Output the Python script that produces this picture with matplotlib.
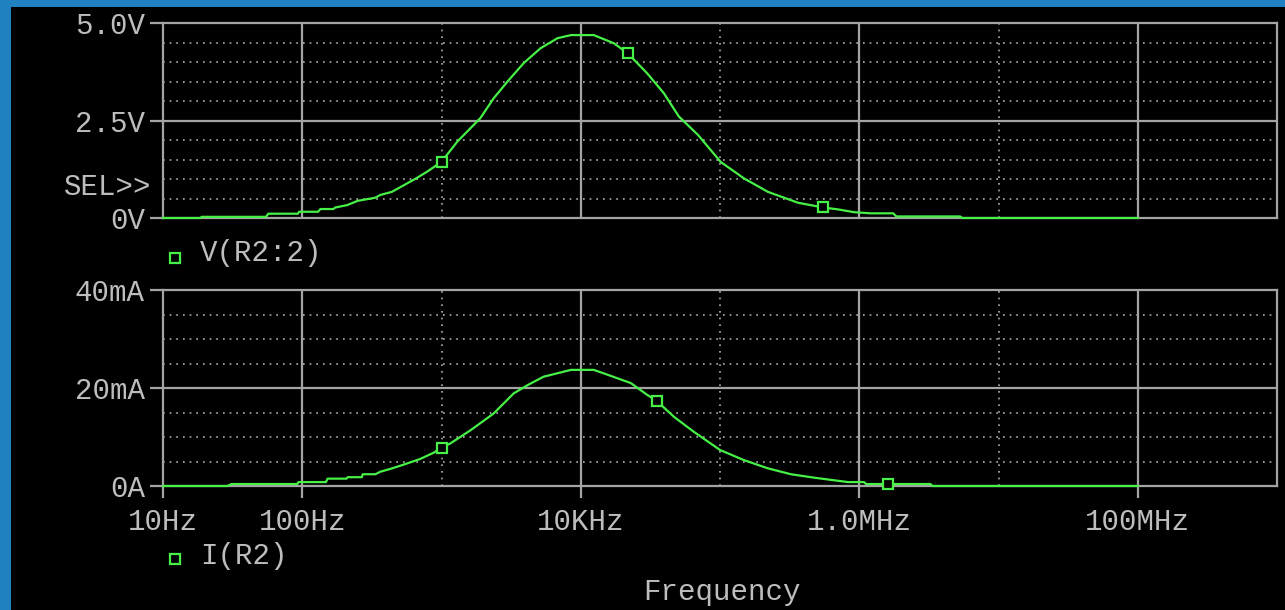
import matplotlib
matplotlib.use("Agg")
import matplotlib.pyplot as plt
from matplotlib.patches import Rectangle
from matplotlib.lines import Line2D

# ---------------- data ----------------
freq_v = [10, 18.5, 19, 55, 57, 93, 95, 130, 135, 167, 173, 210, 250, 335, 363,
          440, 530, 660, 790, 1000, 1300, 1900, 2370, 2980, 3890, 5130, 6800,
          8500, 12400, 17300, 21800, 30000, 39500, 50700, 69500, 101000, 148000,
          221000, 364000, 550000, 705000, 915000, 1.2e6, 1.75e6, 1.85e6, 5.3e6,
          5.5e6, 1e8]
volt = [0.0, 0.0, 0.03, 0.03, 0.11, 0.11, 0.16, 0.16, 0.23, 0.23, 0.27, 0.33,
        0.44, 0.52, 0.59, 0.67, 0.83, 1.02, 1.19, 1.44, 1.96, 2.56, 3.07, 3.50,
        3.97, 4.35, 4.61, 4.69, 4.69, 4.48, 4.22, 3.71, 3.20, 2.60, 2.13, 1.44,
        1.02, 0.67, 0.39, 0.27, 0.22, 0.15, 0.12, 0.12, 0.04, 0.04, 0.0, 0.0]

freq_i = [10, 29, 31, 92, 94, 148, 152, 208, 212, 268, 272, 335, 363, 430, 540,
          700, 880, 1000, 1160, 1620, 2370, 3300, 4160, 5400, 8500, 12400, 15600,
          22900, 30000, 35000, 46800, 64600, 100000, 148000, 221000, 323000,
          474000, 830000, 1.08e6, 1.12e6, 3.25e6, 3.35e6, 1e8]
curr_ma = [0.0, 0.0, 0.4, 0.4, 0.8, 0.8, 1.5, 1.5, 1.8, 1.8, 2.4, 2.4, 2.9, 3.5,
           4.4, 5.5, 6.8, 7.8, 8.7, 11.4, 14.8, 18.9, 20.6, 22.3, 23.7, 23.7,
           22.7, 21.0, 18.6, 17.4, 14.1, 11.1, 7.35, 5.3, 3.6, 2.4, 1.7, 0.8,
           0.8, 0.4, 0.4, 0.0, 0.0]

mark_v_f = [1000, 21800, 550000]
mark_v = [1.44, 4.22, 0.27]
mark_i_f = [1000, 35000, 1.6e6]
mark_i = [7.8, 17.4, 0.4]

v_ticks = [0, 2.5, 5.0]
v_labels = ["0V", "2.5V", "5.0V"]
v_minor = [0.5, 1.0, 1.5, 2.0, 3.0, 3.5, 4.0, 4.5]
i_ticks = [0, 20, 40]
i_labels = ["0A", "20mA", "40mA"]
i_minor = [5, 10, 15, 25, 30, 35]
x_ticks = [10, 100, 1e4, 1e6, 1e8]
x_labels = ["10Hz", "100Hz", "10KHz", "1.0MHz", "100MHz"]
x_solid = [100, 1e4, 1e6, 1e8]
x_dotted = [1e3, 1e5, 1e7]

# ---------------- style ----------------
BLUE = "#2180bf"
GREEN = "#46f046"
GRID = "#a4a4a4"
DOT = "#b0b0b0"
TXT = "#bdbdbd"
FS = 21
plt.rcParams["font.family"] = ["Liberation Mono", "DejaVu Sans Mono"]

W, H = 1285, 610
fig = plt.figure(figsize=(W / 100, H / 100), dpi=100, facecolor=BLUE)
fig.add_artist(Rectangle((11 / W, 0), 1, 1 - 7 / H, transform=fig.transFigure,
                         facecolor="black", edgecolor="none", zorder=-10))


def px_axes(x0, y0, x1, y1):
    return fig.add_axes([x0 / W, 1 - y1 / H, (x1 - x0) / W, (y1 - y0) / H])


def style(ax, ymax, yticks, ylabels, minor, solid_h):
    ax.set_facecolor("black")
    ax.set_xscale("log")
    ax.set_xlim(10, 1e9)
    ax.set_ylim(0, ymax)
    ax.minorticks_off()
    for s in ax.spines.values():
        s.set_color(GRID)
        s.set_linewidth(1.6)
    ax.set_yticks(yticks)
    ax.set_yticklabels(ylabels)
    ax.tick_params(axis="y", length=13 * 0.72, width=1.6, color=GRID,
                   pad=3.6, labelsize=FS, labelcolor=TXT, direction="out")
    for v in minor:
        ax.axhline(v, color=DOT, lw=1.2, ls=(0, (1, 3)), zorder=1)
    ax.axhline(solid_h, color=GRID, lw=1.6, zorder=1)
    for f in x_solid:
        ax.axvline(f, color=GRID, lw=1.6, zorder=1)
    for f in x_dotted:
        ax.axvline(f, color=DOT, lw=1.2, ls=(0, (1, 3)), zorder=1)


ax1 = px_axes(163, 23, 1277, 218)
style(ax1, 5.0, v_ticks, v_labels, v_minor, 2.5)
ax1.set_xticks(x_ticks)
ax1.tick_params(axis="x", length=0, labelbottom=False)
ax1.plot(freq_v, volt, color=GREEN, lw=1.6, zorder=3, clip_on=False)
ax1.plot(mark_v_f, mark_v, "s", ms=7.5, mfc="black", mec=GREEN, mew=1.6,
         zorder=4, clip_on=False)

ax2 = px_axes(163, 290, 1277, 486)
style(ax2, 40, i_ticks, i_labels, i_minor, 20)
ax2.set_xticks(x_ticks)
ax2.set_xticklabels(x_labels)
ax2.tick_params(axis="x", length=12 * 0.72, width=1.6, color=GRID, pad=7,
                labelsize=FS, labelcolor=TXT, direction="out")
ax2.plot(freq_i, curr_ma, color=GREEN, lw=1.6, zorder=3, clip_on=False)
ax2.plot(mark_i_f, mark_i, "s", ms=7.5, mfc="black", mec=GREEN, mew=1.6,
         zorder=4, clip_on=False)

# extra texts
fig.text(151 / W, 1 - 184 / H, "SEL>>", ha="right", va="center_baseline",
         fontsize=FS, color=TXT)
fig.text(200 / W, 1 - 261 / H, "V(R2:2)", ha="left", va="baseline",
         fontsize=FS, color=TXT)
fig.text(200 / W, 1 - 564 / H, "I(R2)", ha="left", va="baseline",
         fontsize=FS, color=TXT)
fig.text(722 / W, 1 - 600 / H, "Frequency", ha="center", va="baseline",
         fontsize=FS, color=TXT)
for yy in (257.5, 559):
    fig.add_artist(Line2D([174.5 / W], [1 - yy / H], marker="s", ms=7,
                          mfc="black", mec=GREEN, mew=1.6,
                          transform=fig.transFigure))

fig.savefig("out.png", dpi=100, facecolor=fig.get_facecolor())
